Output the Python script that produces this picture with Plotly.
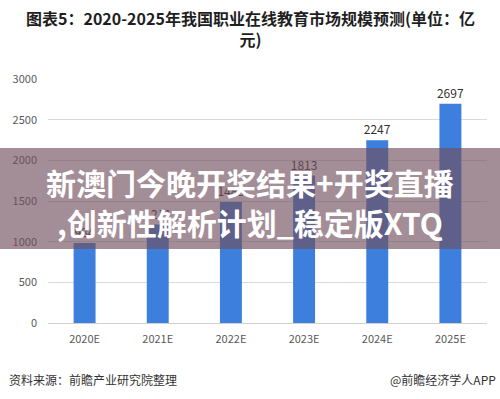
import plotly.graph_objects as go

categories = ["2020E", "2021E", "2022E", "2023E", "2024E", "2025E"]
values = [984, 1211, 1488, 1813, 2247, 2697]
y_ticks = [0, 500, 1000, 1500, 2000, 2500, 3000]

title_text = "图表5：2020-2025年我国职业在线教育市场规模预测(单位：亿<br>元)"
source_text = "资料来源：前瞻产业研究院整理"
brand_text = "@前瞻经济学人APP"
banner_lines = ["新澳门今晚开奖结果+开奖直播", ",创新性解析计划_稳定版XTQ"]

W, H = 500, 399
L, R, T, B = 48, 13, 79, 76
pw, ph = W - L - R, H - T - B

def px_x(p):
    return (p - L) / pw

def px_y(p):
    return (H - B - p) / ph

font_family = "Microsoft YaHei, Noto Sans CJK SC, sans-serif"

fig = go.Figure()
fig.add_trace(go.Bar(
    x=categories, y=values,
    marker=dict(color="#3C7FDC", line=dict(width=0)),
    text=[str(v) for v in values], textposition="outside", constraintext="none",
    textfont=dict(size=12, color="#333333", family=font_family),
    cliponaxis=False, width=0.3,
))

fig.update_layout(
    width=W, height=H,
    margin=dict(l=L, r=R, t=T, b=B, pad=0, autoexpand=False),
    paper_bgcolor="white", plot_bgcolor="white",
    showlegend=False,
    font=dict(family=font_family),
    xaxis=dict(showgrid=False, showline=True, linecolor="#D0D0D0", linewidth=1,
               ticks="", automargin=False,
               tickfont=dict(size=11, color="#595959"), ticklabelstandoff=6),
    yaxis=dict(range=[0, 3000], tickvals=y_ticks, showgrid=True, gridcolor="#DADADA",
               gridwidth=1, zeroline=False, ticks="", showline=False, automargin=False,
               tickfont=dict(size=11, color="#595959"), ticklabelstandoff=10),
)

fig.add_annotation(text="<b>" + title_text + "</b>", xref="paper", yref="paper",
                   x=px_x(250), y=px_y(4), xanchor="center", yanchor="top",
                   showarrow=False, align="center",
                   font=dict(size=16, color="#1F1F1F", family=font_family))

fig.add_annotation(text=source_text, xref="paper", yref="paper",
                   x=px_x(7), y=px_y(379), xanchor="left", yanchor="middle",
                   showarrow=False, font=dict(size=12, color="#333333", family=font_family))
fig.add_annotation(text=brand_text, xref="paper", yref="paper",
                   x=px_x(498), y=px_y(379), xanchor="right", yanchor="middle",
                   showarrow=False, font=dict(size=12, color="#333333", family=font_family))

fig.add_shape(type="rect", xref="paper", yref="paper",
              x0=px_x(0), x1=px_x(500), y0=px_y(249), y1=px_y(148),
              fillcolor="rgba(114,80,94,0.65)", line=dict(width=0), layer="above")

for line, yc in zip(banner_lines, [182, 222]):
    fig.add_annotation(text="<b>" + line + "</b>", xref="paper", yref="paper",
                       x=px_x(250), y=px_y(yc), xanchor="center", yanchor="middle",
                       showarrow=False,
                       font=dict(size=30, color="white", family="Noto Sans CJK SC"))

fig.write_html("out.html", config={"displayModeBar": False},
               post_script="document.body.style.margin='0';document.body.style.padding='0';")
